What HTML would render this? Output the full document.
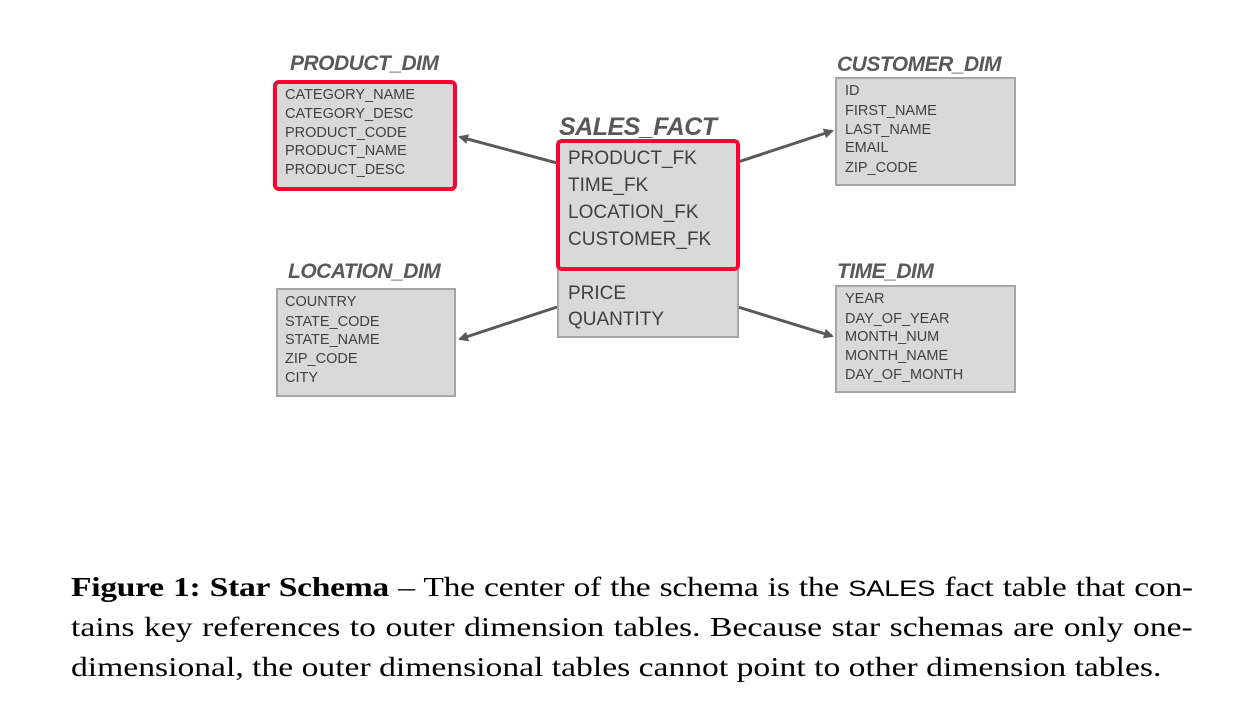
<!DOCTYPE html>
<html><head><meta charset="utf-8"><style>
body{margin:0;width:1237px;height:705px;background:#fff;position:relative;overflow:hidden;font-family:"Liberation Sans",sans-serif}
.t{position:absolute;font-weight:bold;font-style:italic;color:#595959;font-size:21px;line-height:20px;white-space:nowrap;letter-spacing:-0.5px}
.b{position:absolute;background:#d9d9d9;border:2px solid #a6a6a6;box-sizing:border-box}
.r{position:absolute;border:4px solid #ff0033;border-radius:6px;box-sizing:border-box}
.row{position:absolute;font-size:14.5px;white-space:nowrap;line-height:16px;color:#404040}
.frow{position:absolute;font-size:19px;white-space:nowrap;line-height:20px;color:#404040}
.cap{position:absolute;left:71px;width:901px;font-family:"Liberation Serif",serif;font-size:27px;line-height:30px;color:#000;white-space:nowrap;text-align:justify;text-align-last:justify;transform:scaleX(1.245);transform-origin:0 0}
</style></head><body>
<svg width="1237" height="705" style="position:absolute;left:0;top:0">
<defs><marker id="a" markerWidth="10" markerHeight="10" refX="8" refY="5" orient="auto" markerUnits="userSpaceOnUse"><path d="M0,0 L10,5 L0,10 z" fill="#595959"/></marker></defs>
<g stroke="#595959" stroke-width="3" marker-end="url(#a)">
<line x1="557" y1="163" x2="460" y2="137"/>
<line x1="738" y1="162" x2="832" y2="131"/>
<line x1="557" y1="307" x2="460" y2="339"/>
<line x1="738" y1="307" x2="832" y2="336"/>
</g></svg>

<div class="t" style="left:290px;top:54px">PRODUCT_DIM</div>
<div class="b" style="left:276px;top:83px;width:178px;height:104px;border:none"></div>
<div class="r" style="left:273px;top:80px;width:184px;height:111px"></div>
<div class="row" style="left:285px;top:87px">CATEGORY_NAME</div>
<div class="row" style="left:285px;top:106px">CATEGORY_DESC</div>
<div class="row" style="left:285px;top:125px">PRODUCT_CODE</div>
<div class="row" style="left:285px;top:143px">PRODUCT_NAME</div>
<div class="row" style="left:285px;top:162px">PRODUCT_DESC</div>

<div class="t" style="left:559px;top:115px;font-size:25px;line-height:24px">SALES_FACT</div>
<div class="b" style="left:557px;top:140px;width:182px;height:198px"></div>
<div class="r" style="left:556px;top:139px;width:184px;height:132px"></div>
<div class="frow" style="left:568px;top:149px">PRODUCT_FK</div>
<div class="frow" style="left:568px;top:176px">TIME_FK</div>
<div class="frow" style="left:568px;top:203px">LOCATION_FK</div>
<div class="frow" style="left:568px;top:230px">CUSTOMER_FK</div>
<div class="frow" style="left:568px;top:284px">PRICE</div>
<div class="frow" style="left:568px;top:310px">QUANTITY</div>

<div class="t" style="left:837px;top:55px">CUSTOMER_DIM</div>
<div class="b" style="left:835px;top:77px;width:181px;height:109px"></div>
<div class="row" style="left:845px;top:83px">ID</div>
<div class="row" style="left:845px;top:103px">FIRST_NAME</div>
<div class="row" style="left:845px;top:122px">LAST_NAME</div>
<div class="row" style="left:845px;top:140px">EMAIL</div>
<div class="row" style="left:845px;top:160px">ZIP_CODE</div>

<div class="t" style="left:288px;top:262px">LOCATION_DIM</div>
<div class="b" style="left:276px;top:288px;width:180px;height:109px"></div>
<div class="row" style="left:285px;top:294px">COUNTRY</div>
<div class="row" style="left:285px;top:314px">STATE_CODE</div>
<div class="row" style="left:285px;top:332px">STATE_NAME</div>
<div class="row" style="left:285px;top:351px">ZIP_CODE</div>
<div class="row" style="left:285px;top:370px">CITY</div>

<div class="t" style="left:837px;top:262px">TIME_DIM</div>
<div class="b" style="left:835px;top:285px;width:181px;height:108px"></div>
<div class="row" style="left:845px;top:291px">YEAR</div>
<div class="row" style="left:845px;top:311px">DAY_OF_YEAR</div>
<div class="row" style="left:845px;top:329px">MONTH_NUM</div>
<div class="row" style="left:845px;top:348px">MONTH_NAME</div>
<div class="row" style="left:845px;top:367px">DAY_OF_MONTH</div>

<div class="cap" style="top:572px;letter-spacing:-0.25px"><b>Figure 1: Star Schema</b> – The center of the schema is the <span style="font-family:'Liberation Sans',sans-serif;font-size:22px">SALES</span> fact table that con-</div>
<div class="cap" style="top:612px">tains key references to outer dimension tables. Because star schemas are only one-</div>
<div class="cap" style="top:652px;width:auto;text-align:left;text-align-last:left">dimensional, the outer dimensional tables cannot point to other dimension tables.</div>
</body></html>
